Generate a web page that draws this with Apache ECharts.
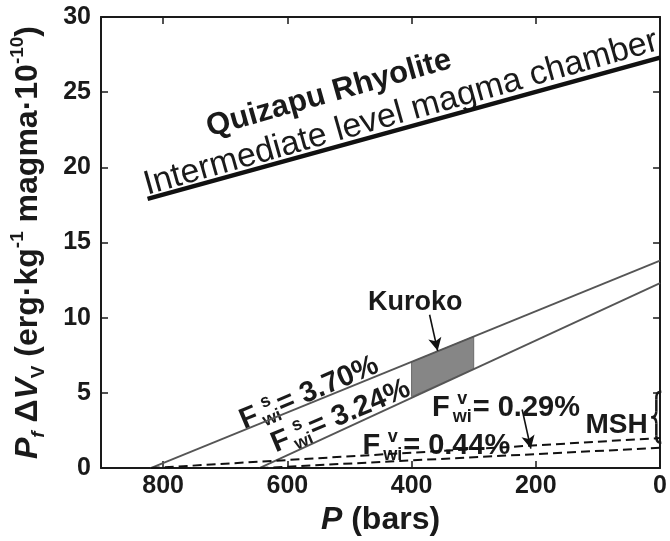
<!DOCTYPE html>
<html><head><meta charset="utf-8">
<script src="https://cdn.jsdelivr.net/npm/echarts@6/dist/echarts.min.js"></script>
<style>html,body{margin:0;padding:0;background:#fff}#c{width:670px;height:541px}</style>
</head><body><div id="c"></div>
<script>
const FONT = '"Liberation Sans", Arial, sans-serif';
const INK = '#1a1a1a';
// tick labels
const xTicks = [0, 200, 400, 600, 800];
const yTicks = [0, 5, 10, 15, 20, 25, 30];
// series (P in bars, value in erg/kg magma *10^-10)
const thickP = [825, 0];
const thickV = [17.9, 27.3];
const s370P = [820, 0];
const s370V = [0, 13.8];
const s324P = [645, 0];
const s324V = [0, 12.3];
const dashAP = [820, 0];
const dashAV = [0, 2.0];
const dashBP = [645, 0];
const dashBV = [0, 1.35];
const kurokoP = [400, 300];
const kurokoLow = [4.75, 6.6];
const kurokoHigh = [7.05, 8.75];
// annotation anchors (data coords)
const kurokoArrow = [[371, 10.2], [358, 7.8]];
const mshArrow = [[222, 3.9], [208, 1.3]];
const quizapuAt = [533, 24.9];
const intermediateAt = [417, 23.6];
const kurokoAt = [394, 11.0];
const f370At = [565, 5.0];
const f324At = [514, 3.45];
const f029At = [248, 4.0];
const f044At = [360, 1.45];
const mshAt = [20, 2.82];
const braceAt = [6, 3.38];

function pairs(xs, ys) { return xs.map((x, i) => [x, ys[i]]); }

const chart = echarts.init(document.getElementById('c'), null, { renderer: 'canvas' });

const axisLine = { show: true, onZero: false, lineStyle: { color: INK, width: 2 } };
const axisTick = { show: true, inside: true, length: 7, lineStyle: { color: INK, width: 1.5 } };
const lbl = { fontFamily: FONT, fontWeight: 'bold', fontSize: 25, color: INK };

const option = {
  animation: false,
  backgroundColor: '#fff',
  grid: { left: 97, right: 6, top: 17, bottom: 67, containLabel: false },
  xAxis: [
    {
      type: 'value', min: 0, max: 900, interval: 200, inverse: true, position: 'bottom',
      axisLine, axisTick, splitLine: { show: false },
      axisLabel: Object.assign({ margin: 6, formatter: v => xTicks.includes(v) ? String(v) : '' }, lbl),
      name: '{i|P}{n| (bars)}', nameLocation: 'middle', nameGap: 34,
      nameTextStyle: {
        rich: {
          i: { fontFamily: FONT, fontWeight: 'bold', fontStyle: 'italic', fontSize: 32, color: INK, lineHeight: 34 },
          n: { fontFamily: FONT, fontWeight: 'bold', fontSize: 32, color: INK, lineHeight: 34 }
        }
      }
    },
    {
      type: 'value', min: 0, max: 900, interval: 200, inverse: true, position: 'top',
      axisLine, axisTick, splitLine: { show: false }, axisLabel: { show: false }
    }
  ],
  yAxis: [
    {
      type: 'value', min: 0, max: 30, interval: 5, position: 'left',
      axisLine, axisTick, splitLine: { show: false },
      axisLabel: Object.assign({ margin: 10, formatter: v => yTicks.includes(v) ? String(v) : '' }, lbl),
      name: '{pi|P}{subi|f}{n| Δ}{pi|V}{sub|V}{n| (erg·kg}{sup|-1}{n| magma·10}{sup|-10}{n|)}',
      nameLocation: 'middle', nameRotate: 90, nameGap: 53,
      nameTextStyle: {
        rich: {
          n: { fontFamily: FONT, fontWeight: 'bold', fontSize: 32, color: INK, lineHeight: 40, verticalAlign: 'middle' },
          pi: { fontFamily: FONT, fontWeight: 'bold', fontStyle: 'italic', fontSize: 32, color: INK, lineHeight: 40, verticalAlign: 'middle' },
          subi: { fontFamily: FONT, fontWeight: 'bold', fontStyle: 'italic', fontSize: 19, color: INK, lineHeight: 22, verticalAlign: 'bottom' },
          sub: { fontFamily: FONT, fontWeight: 'bold', fontSize: 19, color: INK, lineHeight: 22, verticalAlign: 'bottom' },
          sup: { fontFamily: FONT, fontWeight: 'bold', fontSize: 19, color: INK, lineHeight: 24, verticalAlign: 'top' }
        }
      }
    },
    {
      type: 'value', min: 0, max: 30, interval: 5, position: 'right',
      axisLine, axisTick, splitLine: { show: false }, axisLabel: { show: false }
    }
  ],
  series: [
    {
      type: 'custom', name: 'Kuroko', xAxisIndex: 0, yAxisIndex: 0,
      data: kurokoP.map((p, i) => [p, kurokoLow[i], kurokoHigh[i]]),
      encode: { x: 0, y: [1, 2] },
      renderItem: function (params, api) {
        if (params.dataIndexInside !== 0) return null;
        const lo0 = api.coord([api.value(0, 0), api.value(1, 0)]);
        const hi0 = api.coord([api.value(0, 0), api.value(2, 0)]);
        const lo1 = api.coord([api.value(0, 1), api.value(1, 1)]);
        const hi1 = api.coord([api.value(0, 1), api.value(2, 1)]);
        return { type: 'polygon', shape: { points: [lo0, hi0, hi1, lo1] },
          style: { fill: '#868686', stroke: '#6a6a6a', lineWidth: 1 } };
      },
      z: 1
    },
    {
      type: 'line', name: 'thick', data: pairs(thickP, thickV), symbol: 'none',
      lineStyle: { color: '#111', width: 4.5 }, z: 3
    },
    {
      type: 'line', name: 'Fs370', data: pairs(s370P, s370V), symbol: 'none',
      lineStyle: { color: '#555', width: 1.8 }, z: 3,
      markLine: {
        silent: true, animation: false, symbol: ['none', 'arrow'], symbolSize: [10, 13],
        label: { show: false },
        lineStyle: { color: '#111', width: 1.6, type: 'solid' },
        data: [
          [{ coord: kurokoArrow[0] }, { coord: kurokoArrow[1] }],
          [{ coord: mshArrow[0] }, { coord: mshArrow[1] }]
        ]
      }
    },
    {
      type: 'line', name: 'Fs324', data: pairs(s324P, s324V), symbol: 'none',
      lineStyle: { color: '#555', width: 1.8 }, z: 3
    },
    {
      type: 'line', name: 'FvA', data: pairs(dashAP, dashAV), symbol: 'none',
      lineStyle: { color: '#111', width: 2, type: [9, 5] }, z: 3
    },
    {
      type: 'line', name: 'FvB', data: pairs(dashBP, dashBV), symbol: 'none',
      lineStyle: { color: '#111', width: 2, type: [9, 5] }, z: 3
    }
  ]
};
chart.setOption(option);

const ctx = document.createElement('canvas').getContext('2d');
function tw(text, size, weight, style) {
  ctx.font = (style || 'normal') + ' ' + (weight || 'normal') + ' ' + size + 'px ' + FONT;
  return ctx.measureText(text).width;
}
function px(pt) { return chart.convertToPixel({ xAxisIndex: 0, yAxisIndex: 0 }, pt); }
function txt(x, y, text, size, weight, align) {
  return { type: 'text', x: x, y: y, silent: true,
    style: { text: text, fontFamily: FONT, fontSize: size, fontWeight: weight || 'normal',
      fill: INK, align: align || 'left', verticalAlign: 'middle' } };
}
function fLabel(at, angleDeg, sup, pct) {
  const big = 29, small = 18;
  const wF = tw('F', big, 'bold');
  const wSup = tw(sup, small, 'bold');
  const wSub = tw('wi', small, 'bold');
  const rest = '= ' + pct;
  const wRest = tw(rest, big, 'bold');
  const gap = 3;
  const sw = Math.max(wSup, wSub);
  const total = wF + gap + sw + 1 + wRest;
  const x0 = -total / 2;
  const p = px(at);
  return {
    type: 'group', x: p[0], y: p[1], rotation: angleDeg * Math.PI / 180, silent: true,
    children: [
      txt(x0, 0, 'F', big, 'bold'),
      txt(x0 + wF + gap + sw / 2, -9, sup, small, 'bold', 'center'),
      txt(x0 + wF + gap + sw / 2, 9, 'wi', small, 'bold', 'center'),
      txt(x0 + wF + gap + sw + 1, 0, rest, big, 'bold')
    ]
  };
}
function rotText(at, angleDeg, text, size, weight) {
  const p = px(at);
  return { type: 'group', x: p[0], y: p[1], rotation: angleDeg * Math.PI / 180, silent: true,
    children: [txt(0, 0, text, size, weight, 'center')] };
}
function brace(at) {
  const p = px(at);
  const st = { fill: null, stroke: INK, lineWidth: 2.5 };
  return {
    type: 'group', x: p[0], y: p[1], silent: true,
    children: [
      { type: 'bezierCurve', shape: { x1: 5, y1: -25.5, cpx1: 0, cpy1: -25.5, cpx2: 0, cpy2: -22, x2: 0, y2: -18 }, style: st },
      { type: 'line', shape: { x1: 0, y1: -18, x2: 0, y2: -6 }, style: st },
      { type: 'bezierCurve', shape: { x1: 0, y1: -6, cpx1: 0, cpy1: -2, cpx2: -2, cpy2: 0, x2: -5, y2: 0 }, style: st },
      { type: 'bezierCurve', shape: { x1: -5, y1: 0, cpx1: -2, cpy1: 0, cpx2: 0, cpy2: 2, x2: 0, y2: 6 }, style: st },
      { type: 'line', shape: { x1: 0, y1: 6, x2: 0, y2: 18 }, style: st },
      { type: 'bezierCurve', shape: { x1: 0, y1: 18, cpx1: 0, cpy1: 22, cpx2: 0, cpy2: 25.5, x2: 5, y2: 25.5 }, style: st }
    ]
  };
}
const graphic = [
  rotText(quizapuAt, 15.8, 'Quizapu Rhyolite', 31, 'bold'),
  rotText(intermediateAt, 15.8, 'Intermediate level magma chamber', 34, 'normal'),
  rotText(kurokoAt, 0, 'Kuroko', 27, 'bold'),
  fLabel(f370At, 23, 's', '3.70%'),
  fLabel(f324At, 23, 's', '3.24%'),
  fLabel(f029At, 0, 'v', '0.29%'),
  fLabel(f044At, 0, 'v', '0.44%'),
  (function () { const p = px(mshAt); return txt(p[0], p[1], 'MSH', 28, 'bold', 'right'); })(),
  brace(braceAt)
];
chart.setOption({ graphic: graphic });
</script>
</body></html>
